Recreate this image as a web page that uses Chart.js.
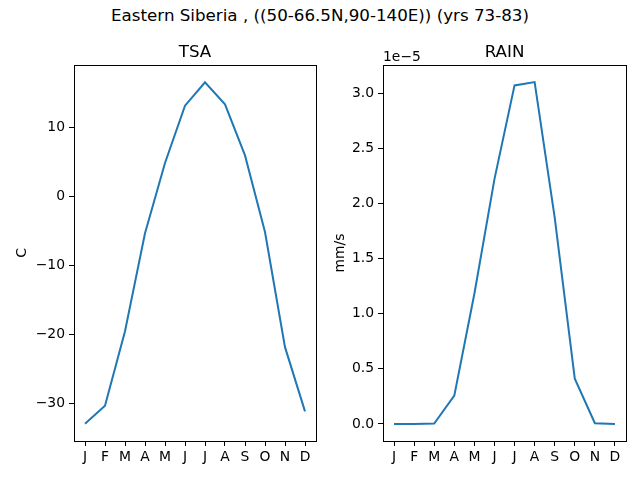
<!DOCTYPE html>
<html>
<head>
<meta charset="utf-8">
<script src="https://cdn.jsdelivr.net/npm/chart.js@4.4.1/dist/chart.umd.min.js"></script>
<style>
  body { margin: 0; background: #fff; }
  #wrap { position: relative; width: 640px; height: 480px; overflow: hidden; }
  #suptitle {
    position: absolute; left: 0; top: 7px; width: 640px; text-align: center;
    font-family: "DejaVu Sans", sans-serif; font-size: 16.7px; line-height: 1; color: #000;
  }
  canvas { position: absolute; top: 0; }
</style>
</head>
<body>
<div id="wrap">
  <div id="suptitle">Eastern Siberia , ((50-66.5N,90-140E)) (yrs 73-83)</div>
  <canvas id="tsaChart" style="left:0px"></canvas>
  <canvas id="rainChart" style="left:320px"></canvas>
</div>
<script>
const months = ["J", "F", "M", "A", "M", "J", "J", "A", "S", "O", "N", "D"];
// surface air temperature, C
const tsa = [-32.9, -30.3, -19.5, -5.3, 4.9, 13.2, 16.6, 13.4, 6.0, -5.1, -21.8, -31.1];
// rain in units of 1e-5 mm/s
const rain_1e5 = [0.0, 0.0, 0.003, 0.257, 1.18, 2.22, 3.07, 3.10, 1.87, 0.41, 0.006, 0.0];
const tsaTicks = [-30, -20, -10, 0, 10];
const rainTicks = [0.0, 0.5, 1.0, 1.5, 2.0, 2.5, 3.0];

const FONT = "DejaVu Sans";
const LINE = "#1f77b4";

function fmtMinus(v, digits) {
  let s = digits ? v.toFixed(digits) : String(Math.round(v));
  return s.replace("-", "\u2212");
}

// frame, subplot title and offset text
const framePlugin = {
  id: "frame",
  afterDraw(chart, args, opts) {
    const a = chart.chartArea;
    const ctx = chart.ctx;
    ctx.save();
    ctx.strokeStyle = "#000";
    ctx.lineWidth = 1;
    ctx.strokeRect(Math.round(a.left) + 0.5, Math.round(a.top) + 0.5,
      Math.round(a.right - a.left), Math.round(a.bottom - a.top));
    ctx.fillStyle = "#000";
    ctx.textAlign = "center";
    ctx.textBaseline = "alphabetic";
    ctx.font = "16.7px '" + FONT + "'";
    ctx.fillText(opts.title, (a.left + a.right) / 2, a.top - 8);
    if (opts.offsetText) {
      ctx.font = "13.9px '" + FONT + "'";
      ctx.textAlign = "left";
      ctx.fillText(opts.offsetText, a.left, a.top - 4);
    }
    ctx.restore();
  }
};

function makeChart(id, canvasW, values, yMin, yMax, tickVals, yLabel, labelPad, title, offsetText, axisW, padRight, digits) {
  const el = document.getElementById(id);
  el.width = canvasW;
  el.height = 480;
  el.style.width = canvasW + "px";
  el.style.height = "480px";
  return new Chart(el, {
    type: "line",
    data: {
      datasets: [{
        data: values.map((v, i) => ({ x: i, y: v })),
        borderColor: LINE,
        borderWidth: 2,
        pointRadius: 0,
        tension: 0,
        fill: false
      }]
    },
    plugins: [framePlugin],
    options: {
      responsive: false,
      animation: false,
      layout: { padding: { left: 0, right: padRight, top: 65, bottom: 0 } },
      plugins: {
        legend: { display: false },
        tooltip: { enabled: false },
        frame: { title: title, offsetText: offsetText }
      },
      scales: {
        x: {
          type: "linear",
          min: -0.55,
          max: 11.55,
          afterBuildTicks(scale) {
            scale.ticks = months.map((m, i) => ({ value: i }));
          },
          afterFit(scale) { scale.height = 39; },
          border: { display: false },
          grid: { drawOnChartArea: false, drawTicks: true, tickLength: 5, color: "#000", tickWidth: 1 },
          ticks: {
            autoSkip: false,
            maxRotation: 0,
            padding: 3,
            color: "#000",
            font: { family: FONT, size: 13.9 },
            callback: (v) => months[v]
          }
        },
        y: {
          type: "linear",
          min: yMin,
          max: yMax,
          afterBuildTicks(scale) {
            scale.ticks = tickVals.map((v) => ({ value: v }));
          },
          afterFit(scale) { scale.width = axisW; },
          border: { display: false },
          grid: { drawOnChartArea: false, drawTicks: true, tickLength: 5, color: "#000", tickWidth: 1 },
          title: {
            display: true,
            text: yLabel,
            color: "#000",
            font: { family: FONT, size: 13.9 },
            padding: { top: labelPad, bottom: 0 }
          },
          ticks: {
            padding: 4,
            color: "#000",
            font: { family: FONT, size: 13.9 },
            callback: (v) => fmtMinus(v, digits)
          }
        }
      }
    }
  });
}

makeChart("tsaChart", 320, tsa, -35.4, 19.1, tsaTicks, "C", 14, "TSA", null, 74, 4, 0);
makeChart("rainChart", 320, rain_1e5, -0.155, 3.255, rainTicks, "mm/s", 12, "RAIN", "1e\u22125", 63, 14, 1);
</script>
</body>
</html>
